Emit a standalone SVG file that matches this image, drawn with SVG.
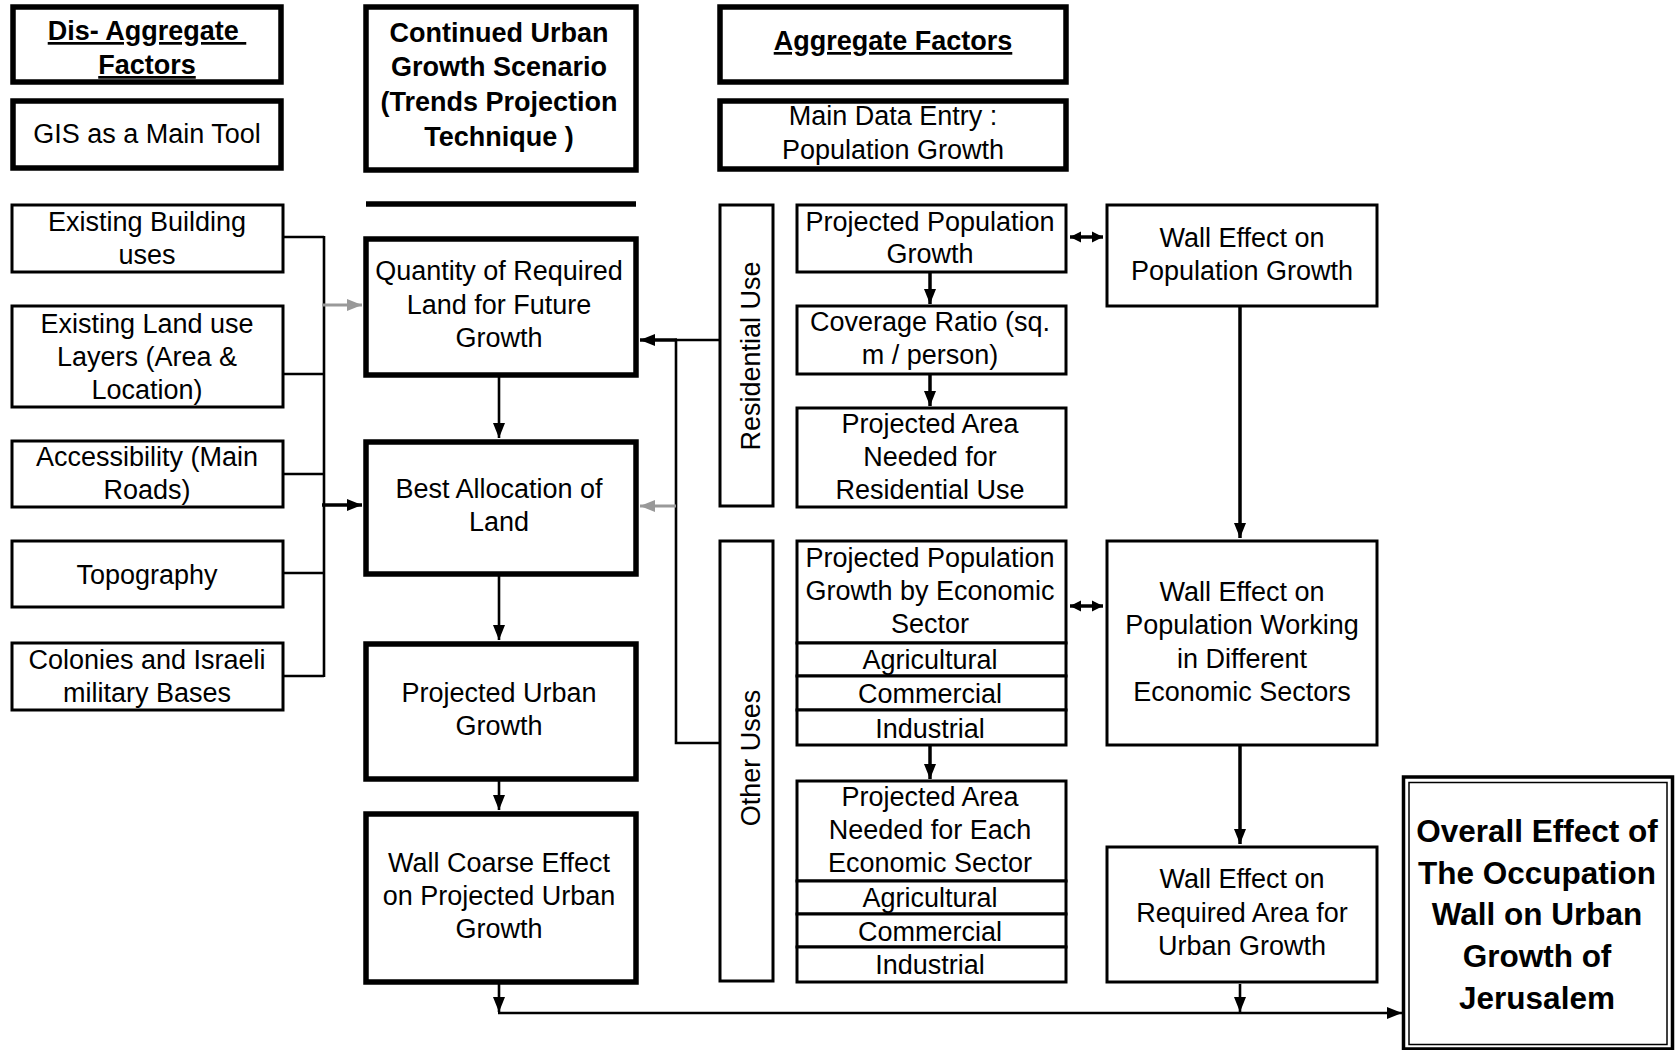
<svg xmlns="http://www.w3.org/2000/svg" width="1675" height="1050" viewBox="0 0 1675 1050">
<style>
text{font-family:"Liberation Sans",Arial,sans-serif;font-size:27px;fill:#000;text-anchor:middle}
.b{font-weight:bold}
.u{text-decoration:underline}
.big{font-size:31.5px;font-weight:bold}
.thick{fill:#fff;stroke:#000;stroke-width:5.5}
.thin{fill:#fff;stroke:#000;stroke-width:3}
.ln{fill:none;stroke:#000;stroke-width:2.6}
.ln3{fill:none;stroke:#000;stroke-width:3.5}
.gr{fill:none;stroke:#999;stroke-width:3}
</style>
<defs>
<marker id="ah" markerUnits="userSpaceOnUse" markerWidth="16" markerHeight="16" refX="15" refY="8" orient="auto">
<path d="M0,2 L15,8 L0,14 z" fill="#000"/>
</marker>
<marker id="ahs" markerUnits="userSpaceOnUse" markerWidth="14" markerHeight="14" refX="11" refY="7" orient="auto-start-reverse">
<path d="M0,1.5 L11,7 L0,12.5 z" fill="#000"/>
</marker>
<marker id="ag" markerUnits="userSpaceOnUse" markerWidth="16" markerHeight="16" refX="15" refY="8" orient="auto">
<path d="M0,2 L15,8 L0,14 z" fill="#999"/>
</marker>
</defs>

<g id="connectors">
<path class="ln" d="M283,237 H324 M283,374 H324 M283,474 H324 M283,573 H324 M283,676 H324 M324,236 V677"/>
<path class="gr" d="M322,305 H362" marker-end="url(#ag)"/>
<path class="ln3" d="M322,505 H362" marker-end="url(#ah)"/>
<path class="ln" d="M499,376 V438" marker-end="url(#ah)"/>
<path class="ln" d="M499,575 V640" marker-end="url(#ah)"/>
<path class="ln" d="M499,780 V810" marker-end="url(#ah)"/>
<path class="ln" d="M499,984 V1012" marker-end="url(#ah)"/>
<path class="ln" d="M719,340 H676 V743 H719"/>
<path class="ln3" d="M677,340 H640" marker-end="url(#ah)"/>
<path class="gr" d="M676,506 H640" marker-end="url(#ag)"/>
<path class="ln3" d="M930,272 V304" marker-end="url(#ah)"/>
<path class="ln3" d="M930,374 V406" marker-end="url(#ah)"/>
<path class="ln3" d="M930,745 V779" marker-end="url(#ah)"/>
<path class="ln3" d="M1070,237 H1103" marker-start="url(#ahs)" marker-end="url(#ahs)"/>
<path class="ln3" d="M1070,606 H1103" marker-start="url(#ahs)" marker-end="url(#ahs)"/>
<path class="ln3" d="M1240,307 V538" marker-end="url(#ah)"/>
<path class="ln3" d="M1240,745 V844" marker-end="url(#ah)"/>
<path class="ln" d="M1240,984 V1012" marker-end="url(#ah)"/>
<path class="ln" d="M498,1013 H1402" marker-end="url(#ah)"/>
</g>

<g id="n-disaggregate"><rect class="thick" x="13" y="7" width="268" height="75"/>
<text class="b u" x="147" y="40" xml:space="preserve">Dis- Aggregate </text><text class="b u" x="147" y="74">Factors</text></g>
<g id="n-gis"><rect class="thick" x="13" y="101" width="268" height="67"/>
<text x="147" y="143">GIS as a Main Tool</text></g>
<g id="n-building"><rect class="thin" x="12" y="205" width="271" height="67"/>
<text x="147" y="231">Existing Building</text><text x="147" y="264">uses</text></g>
<g id="n-landuse"><rect class="thin" x="12" y="306" width="271" height="101"/>
<text x="147" y="333">Existing Land use</text><text x="147" y="366">Layers (Area &amp;</text><text x="147" y="399">Location)</text></g>
<g id="n-access"><rect class="thin" x="12" y="441" width="271" height="66"/>
<text x="147" y="466">Accessibility (Main</text><text x="147" y="499">Roads)</text></g>
<g id="n-topo"><rect class="thin" x="12" y="541" width="271" height="66"/>
<text x="147" y="584">Topography</text></g>
<g id="n-colonies"><rect class="thin" x="12" y="643" width="271" height="67"/>
<text x="147" y="669">Colonies and Israeli</text><text x="147" y="702">military Bases</text></g>

<g id="n-continued"><rect class="thick" x="366" y="7" width="270" height="163"/>
<text class="b" x="499" y="42">Continued Urban</text><text class="b" x="499" y="76">Growth Scenario</text><text class="b" x="499" y="111">(Trends Projection</text><text class="b" x="499" y="146">Technique )</text></g>
<g id="n-line"><line x1="366" y1="204" x2="636" y2="204" stroke="#000" stroke-width="5.5"/></g>
<g id="n-quantity"><rect class="thick" x="366" y="239" width="270" height="136"/>
<text x="499" y="280">Quantity of Required</text><text x="499" y="314">Land for Future</text><text x="499" y="347">Growth</text></g>
<g id="n-best"><rect class="thick" x="366" y="442" width="270" height="132"/>
<text x="499" y="498">Best Allocation of</text><text x="499" y="531">Land</text></g>
<g id="n-projurban"><rect class="thick" x="366" y="644" width="270" height="135"/>
<text x="499" y="702">Projected Urban</text><text x="499" y="735">Growth</text></g>
<g id="n-wallcoarse"><rect class="thick" x="366" y="814" width="270" height="168"/>
<text x="499" y="872">Wall Coarse Effect</text><text x="499" y="905">on Projected Urban</text><text x="499" y="938">Growth</text></g>

<g id="n-aggregate"><rect class="thick" x="720" y="7" width="346" height="75"/>
<text class="b u" x="893" y="50">Aggregate Factors</text></g>
<g id="n-maindata"><rect class="thick" x="720" y="101" width="346" height="68"/>
<text x="893" y="125">Main Data Entry :</text><text x="893" y="159">Population Growth</text></g>

<g id="n-residential"><rect class="thin" x="720" y="205" width="53" height="301"/>
<text transform="translate(760,356) rotate(-90)">Residential Use</text></g>
<g id="n-otheruses"><rect class="thin" x="720" y="541" width="53" height="440"/>
<text transform="translate(760,758) rotate(-90)">Other Uses</text></g>

<g id="n-projpop"><rect class="thin" x="797" y="205" width="269" height="67"/>
<text x="930" y="231">Projected Population</text><text x="930" y="263">Growth</text></g>
<g id="n-coverage"><rect class="thin" x="797" y="306" width="269" height="68"/>
<text x="930" y="331">Coverage Ratio (sq.</text><text x="930" y="364">m / person)</text></g>
<g id="n-projarea-res"><rect class="thin" x="797" y="408" width="269" height="99"/>
<text x="930" y="433">Projected Area</text><text x="930" y="466">Needed for</text><text x="930" y="499">Residential Use</text></g>

<g id="n-projpop-sector">
<rect class="thin" x="797" y="541" width="269" height="102"/>
<rect class="thin" x="797" y="643" width="269" height="33"/>
<rect class="thin" x="797" y="676" width="269" height="34"/>
<rect class="thin" x="797" y="710" width="269" height="35"/>
<text x="930" y="567">Projected Population</text><text x="930" y="600">Growth by Economic</text><text x="930" y="633">Sector</text>
<text x="930" y="669">Agricultural</text><text x="930" y="703">Commercial</text><text x="930" y="738">Industrial</text></g>
<g id="n-projarea-sector">
<rect class="thin" x="797" y="781" width="269" height="100"/>
<rect class="thin" x="797" y="881" width="269" height="33"/>
<rect class="thin" x="797" y="914" width="269" height="33"/>
<rect class="thin" x="797" y="947" width="269" height="35"/>
<text x="930" y="806">Projected Area</text><text x="930" y="839">Needed for Each</text><text x="930" y="872">Economic Sector</text>
<text x="930" y="907">Agricultural</text><text x="930" y="941">Commercial</text><text x="930" y="974">Industrial</text></g>

<g id="n-wallpop"><rect class="thin" x="1107" y="205" width="270" height="101"/>
<text x="1242" y="247">Wall Effect on</text><text x="1242" y="280">Population Growth</text></g>
<g id="n-wallworking"><rect class="thin" x="1107" y="541" width="270" height="204"/>
<text x="1242" y="601">Wall Effect on</text><text x="1242" y="634">Population Working</text><text x="1242" y="668">in Different</text><text x="1242" y="701">Economic Sectors</text></g>
<g id="n-wallrequired"><rect class="thin" x="1107" y="847" width="270" height="135"/>
<text x="1242" y="888">Wall Effect on</text><text x="1242" y="922">Required Area for</text><text x="1242" y="955">Urban Growth</text></g>

<g id="n-overall">
<rect x="1403.5" y="777" width="269" height="272" fill="#fff" stroke="#000" stroke-width="3.5"/>
<rect x="1409" y="782.5" width="258" height="262" fill="none" stroke="#000" stroke-width="1.5"/>
<text class="big" x="1537" y="842">Overall Effect of</text><text class="big" x="1537" y="884">The Occupation</text><text class="big" x="1537" y="925">Wall on Urban</text><text class="big" x="1537" y="967">Growth of</text><text class="big" x="1537" y="1009">Jerusalem</text></g>
</svg>
